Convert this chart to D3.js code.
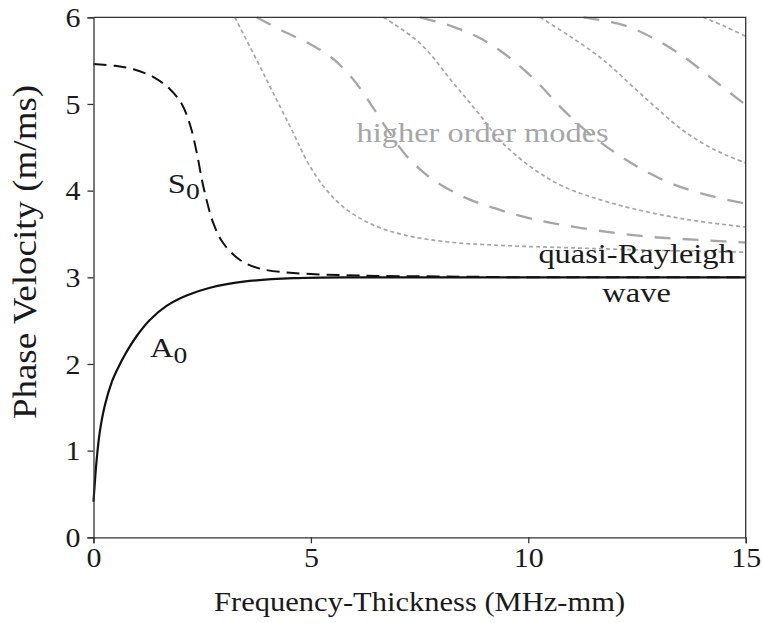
<!DOCTYPE html>
<html>
<head>
<meta charset="utf-8">
<script src="https://cdn.jsdelivr.net/npm/d3@7"></script>
<style>
  body { margin: 0; background: #fff; }
  svg { display: block; }
  text { font-family: "Liberation Serif", "Times New Roman", serif; }
</style>
</head>
<body>
<div id="vis"></div>
<script>
'use strict'

// ---------- data ----------
const xTicks = [0, 5, 10, 15];
const yTicks = [0, 1, 2, 3, 4, 5, 6];

// fundamental modes
const a0Fh = [0, 0.065, 0.14, 0.26, 0.42, 0.57, 0.76, 0.99, 1.3, 1.68, 2.14, 2.68, 3.45, 4.6, 6.13, 8, 10, 12, 15];
const a0V  = [0.41, 0.85, 1.20, 1.52, 1.79, 1.96, 2.14, 2.32, 2.51, 2.67, 2.79, 2.88, 2.95, 2.99, 3.0, 3.0, 3.0, 3.0, 3.0];

const s0Fh = [0, 0.5, 0.92, 1.38, 1.76, 2.03, 2.22, 2.37, 2.53, 2.76, 2.99, 3.37, 3.83, 4.6, 6.13, 8, 10, 12, 15];
const s0V  = [5.46, 5.44, 5.40, 5.31, 5.17, 5.00, 4.76, 4.45, 4.04, 3.62, 3.39, 3.20, 3.10, 3.05, 3.02, 3.01, 3.0, 3.0, 3.0];

// higher order modes (gray), alternating dotted / long-dashed
const modeAFh = [3.25, 3.75, 4.14, 4.6, 4.9, 5.29, 5.75, 6.36, 7.13, 8.12, 9.27, 11, 13, 15];
const modeAV  = [6.0, 5.51, 5.12, 4.66, 4.35, 4.05, 3.81, 3.62, 3.49, 3.41, 3.37, 3.34, 3.31, 3.29];

const modeBFh = [3.75, 4.4, 4.79, 5.09, 5.44, 5.71, 5.98, 6.2, 6.44, 6.82, 7.2, 7.74, 8.5, 9.2, 10.04, 11.19, 12.72, 14.0, 15];
const modeBV  = [6.0, 5.83, 5.74, 5.66, 5.55, 5.43, 5.28, 5.13, 4.95, 4.66, 4.40, 4.15, 3.93, 3.80, 3.68, 3.57, 3.47, 3.43, 3.40];

const modeCFh = [6.67, 7.51, 8.28, 8.89, 9.35, 10.04, 10.8, 11.96, 13.49, 15];
const modeCV  = [6.0, 5.70, 5.24, 4.87, 4.58, 4.28, 4.05, 3.85, 3.68, 3.58];

const modeDFh = [7.51, 8.28, 8.96, 9.58, 10.19, 10.73, 11.3, 11.96, 12.6, 13.3, 14.1, 14.8, 15];
const modeDV  = [6.0, 5.89, 5.74, 5.53, 5.26, 4.97, 4.70, 4.45, 4.25, 4.08, 3.95, 3.87, 3.85];

const modeEFh = [10.27, 10.96, 11.72, 12.49, 13.0, 13.49, 14.0, 14.5, 15];
const modeEV  = [6.0, 5.78, 5.51, 5.16, 4.93, 4.72, 4.55, 4.42, 4.32];

const modeFFh = [11.27, 12.19, 12.87, 13.56, 14.18, 14.79, 15];
const modeFV  = [6.0, 5.91, 5.76, 5.55, 5.31, 5.07, 4.99];

const modeGFh = [14.02, 14.5, 15];
const modeGV  = [6.0, 5.9, 5.78];

const higherModes = [
  { fh: modeAFh, v: modeAV, style: 'dot' },
  { fh: modeBFh, v: modeBV, style: 'long' },
  { fh: modeCFh, v: modeCV, style: 'dot' },
  { fh: modeDFh, v: modeDV, style: 'long' },
  { fh: modeEFh, v: modeEV, style: 'dot' },
  { fh: modeFFh, v: modeFV, style: 'long' },
  { fh: modeGFh, v: modeGV, style: 'dot' }
];

// ---------- options ----------
const options = {
  width: 762,
  height: 623,
  margin: { top: 17.3, right: 16.3, bottom: 85.7, left: 93.5 },
  fontSize: 27.5,
  stretch: 1.18,       // annotations
  tickStretch: 1.09,   // tick labels
  titleStretch: 1.11,  // x title
  gray: '#a6a6a6',
  ink: '#1a1a1a'
};

const width = options.width - options.margin.left - options.margin.right;
const height = options.height - options.margin.top - options.margin.bottom;

const svg = d3.select('#vis').append('svg')
  .attr('width', options.width)
  .attr('height', options.height);

const g = svg.append('g')
  .attr('transform', `translate(${options.margin.left},${options.margin.top})`);

// ---------- scales ----------
const x = d3.scaleLinear().domain([0, 15]).range([0, width]);
const y = d3.scaleLinear().domain([0, 6]).range([height, 0]);

const line = d3.line()
  .x(d => x(d[0]))
  .y(d => y(d[1]))
  .curve(d3.curveCatmullRom.alpha(0.5));

const zip = (a, b) => a.map((d, i) => [d, b[i]]);

// text helper: glyphs in the reference are wider than plain Times
function label(sel, px, py, str, anchor, color, stretch) {
  return sel.append('text')
    .attr('transform', `translate(${px},${py}) scale(${stretch || options.stretch},1)`)
    .attr('text-anchor', anchor)
    .attr('font-size', options.fontSize)
    .attr('fill', color || options.ink)
    .text(str);
}

// ---------- higher order modes ----------
g.append('g')
  .selectAll('path')
  .data(higherModes)
  .join('path')
  .attr('d', d => line(zip(d.fh, d.v)))
  .attr('fill', 'none')
  .attr('stroke', options.gray)
  .attr('stroke-width', d => d.style === 'dot' ? 1.7 : 2.3)
  .attr('stroke-dasharray', d => d.style === 'dot' ? '4,3' : '16,12');

// ---------- fundamental modes ----------
g.append('path')
  .attr('d', line(zip(s0Fh, s0V)))
  .attr('fill', 'none')
  .attr('stroke', '#111')
  .attr('stroke-width', 2)
  .attr('stroke-dasharray', '13,7');

g.append('path')
  .attr('d', line(zip(a0Fh, a0V)))
  .attr('fill', 'none')
  .attr('stroke', '#111')
  .attr('stroke-width', 2.2);

// ---------- axes ----------
const xAxis = g.append('g')
  .attr('transform', `translate(0,${height})`)
  .call(d3.axisBottom(x).tickValues(xTicks).tickSize(6).tickPadding(4).tickFormat(d3.format('d')));

const yAxis = g.append('g')
  .call(d3.axisLeft(y).tickValues(yTicks).tickSize(6).tickPadding(7).tickFormat(d3.format('d')));

[xAxis, yAxis].forEach(ax => {
  ax.select('.domain').attr('stroke', '#333').attr('stroke-width', 1.3);
  ax.selectAll('.tick line').attr('stroke', '#333').attr('stroke-width', 1.3);
  ax.selectAll('.tick text')
    .attr('font-family', '"Liberation Serif", "Times New Roman", serif')
    .attr('font-size', options.fontSize)
    .attr('fill', options.ink);
});

xAxis.selectAll('.tick text')
  .attr('transform', `scale(${options.tickStretch},1)`);
yAxis.selectAll('.tick text')
  .attr('dy', '0.34em')
  .attr('transform', `translate(-13,0) scale(${options.tickStretch},1) translate(13,0)`);

// frame: top and right
g.append('path')
  .attr('d', `M0,0H${width}V${height}`)
  .attr('fill', 'none')
  .attr('stroke', '#333')
  .attr('stroke-width', 1.3);

// ---------- titles ----------
label(svg, options.margin.left + width / 2, 611, 'Frequency-Thickness (MHz-mm)', 'middle', options.ink, options.titleStretch);

svg.append('text')
  .attr('transform', `translate(36,252) scale(0.9,1) rotate(-90)`)
  .attr('text-anchor', 'middle')
  .attr('font-size', 37)
  .attr('fill', options.ink)
  .text('Phase Velocity (m/ms)');

// ---------- annotations ----------
const s0Label = label(g, x(1.71), y(3.97), 'S', 'start');
s0Label.append('tspan').attr('dy', '0.25em').attr('font-size', options.fontSize * 0.85).text('0');

const a0Label = label(g, x(1.30), y(2.08), 'A', 'start');
a0Label.append('tspan').attr('dy', '0.25em').attr('font-size', options.fontSize * 0.85).text('0');

label(g, x(8.95), y(4.56), 'higher order modes', 'middle', options.gray);
label(g, x(12.49), y(3.165), 'quasi-Rayleigh', 'middle');
label(g, x(12.49), y(2.72), 'wave', 'middle');
</script>
</body>
</html>
